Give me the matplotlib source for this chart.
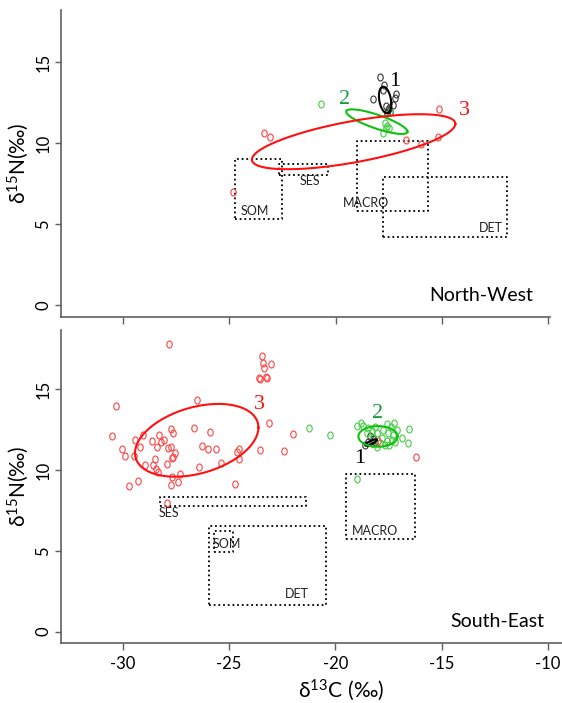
"""
Stable isotope biplot (d13C vs d15N) for two regions, with standard
ellipses per group and dotted source boxes.
"""

import numpy as np
import matplotlib
matplotlib.use("Agg")
import matplotlib.pyplot as plt
from matplotlib.path import Path

# ── Data: North-West ──────────────────────────────────────────────────────────
NW_G1_X = [-17.90, -17.72, -18.22, -17.16, -17.20, -17.28, -17.65, -17.55,
           -17.45, -17.60, -17.50, -17.75]
NW_G1_Y = [14.11, 13.60, 12.71, 13.02, 12.81, 12.36, 12.30, 12.05,
           11.90, 11.85, 12.15, 13.30]
NW_G2_X = [-20.68, -17.67, -17.56, -17.47, -17.63, -17.75, -17.45]
NW_G2_Y = [12.42, 11.23, 11.08, 10.96, 10.92, 10.65, 11.90]
NW_G3_X = [-23.36, -23.08, -24.83, -15.14, -16.70, -15.97, -15.17]
NW_G3_Y = [10.61, 10.36, 7.00, 12.09, 10.20, 9.95, 10.36]

# ── Data: South-East ──────────────────────────────────────────────────────────
SE_G1_X = [-18.22, -18.46, -18.61, -18.30, -18.38, -18.14]
SE_G1_Y = [11.89, 11.74, 11.54, 11.64, 12.10, 11.74]
SE_G2_X = [-21.23, -20.26, -19.00, -18.80, -18.69, -18.14, -17.59, -17.24,
           -17.39, -16.53, -16.86, -16.61, -18.98, -18.53, -18.30, -18.04,
           -17.75, -17.52, -17.28, -17.12, -17.83, -17.59, -17.36, -17.67,
           -17.91, -18.04, -17.20, -18.22, -17.47, -18.46]
SE_G2_Y = [12.61, 12.16, 12.73, 12.88, 12.73, 12.67, 12.84, 12.88,
           12.67, 12.53, 11.95, 11.68, 9.42, 12.26, 12.42, 12.26,
           12.47, 12.26, 12.16, 12.47, 11.95, 11.79, 11.85, 11.54,
           11.68, 11.43, 11.74, 12.01, 11.54, 12.57]
SE_G3_X = [-27.81, -23.45, -23.39, -23.03, -23.35, -23.60, -23.56, -23.28,
           -23.22, -30.30, -26.52, -23.14, -22.00, -30.49, -30.02, -29.88,
           -29.42, -29.03, -29.17, -29.48, -28.94, -29.27, -29.72, -28.61,
           -28.31, -28.20, -28.40, -28.05, -27.72, -27.65, -27.87, -27.72,
           -27.54, -27.62, -27.68, -28.48, -28.56, -28.44, -28.34, -27.90,
           -27.70, -27.74, -27.39, -27.31, -26.63, -25.91, -26.29, -25.99,
           -25.62, -26.41, -25.37, -24.63, -24.52, -24.52, -24.71, -23.56,
           -22.41, -27.90, -17.99, -16.22]
SE_G3_Y = [17.76, 17.04, 16.63, 16.55, 16.28, 15.70, 15.60, 15.72,
           15.70, 13.97, 14.34, 12.90, 12.22, 12.08, 11.27, 10.88,
           11.83, 12.16, 11.40, 10.86, 10.32, 9.33, 8.99, 11.81,
           12.14, 11.71, 11.43, 11.85, 12.55, 12.26, 11.33, 11.40,
           11.06, 10.82, 10.72, 10.66, 10.30, 10.04, 9.87, 10.36,
           9.58, 9.07, 9.25, 9.75, 12.57, 12.32, 11.46, 11.29,
           11.27, 10.20, 10.43, 11.13, 11.31, 10.66, 9.13, 11.23,
           11.15, 7.95, 11.80, 10.78]

# Standard ellipses: (centre x, centre y, sd x, sd y, correlation)
NW_ELLIPSES = [(-17.67, 12.67, 0.29, 0.82, -0.30),
               (-18.06, 11.33, 1.44, 0.76, -0.81),
               (-19.15, 10.09, 4.78, 1.70, 0.65)]
SE_ELLIPSES = [(-18.33, 11.69, 0.27, 0.20, 0.80),
               (-18.00, 12.07, 0.92, 0.64, 0.00),
               (-26.52, 11.83, 2.90, 2.25, 0.35)]

# Group number labels (x, y)
NW_NUMBERS = [(-17.20, 13.80), (-19.58, 12.71), (-13.95, 12.00)]
SE_NUMBERS = [(-18.85, 10.72), (-18.04, 13.50), (-23.55, 14.07)]

# Source boxes: name, x0, x1, y0, y1, label x, label y
NW_SOURCES = ["SOM", "SES", "MACRO", "DET"]
NW_BOX_X = [(-24.72, -22.51), (-22.65, -20.34), (-19.00, -15.64), (-17.77, -11.92)]
NW_BOX_Y = [(5.31, 9.00), (8.03, 8.70), (5.83, 10.16), (4.22, 7.93)]
NW_LABEL_XY = [(-23.78, 5.83), (-21.20, 7.68), (-18.58, 6.28), (-12.70, 4.76)]

SE_SOURCES = ["SES", "DET", "SOM", "MACRO"]
SE_BOX_X = [(-28.25, -21.40), (-25.96, -20.46), (-25.71, -24.80), (-19.51, -16.26)]
SE_BOX_Y = [(7.77, 8.34), (1.65, 6.53), (4.94, 6.24), (5.72, 9.75)]
SE_LABEL_XY = [(-27.82, 7.32), (-21.80, 2.33), (-25.11, 5.42), (-18.16, 6.22)]

GROUP_COLORS = ["black", "#10c010", "#ff1010"]
POINT_COLORS = ["#333333", "#44cc44", "#ff4040"]
NUMBER_COLORS = ["black", "#1a9a40", "#ff1010"]
AXIS_GREY = "#606060"

# small upright ellipse marker, like R's squashed pch=1
_t = np.linspace(0, 2 * np.pi, 40)
MARKER = Path(np.column_stack([0.78 * np.cos(_t), np.sin(_t)]), closed=True)


def ellipse_xy(cx, cy, sx, sy, rho, n=200):
    t = np.linspace(0, 2 * np.pi, n)
    x = cx + sx * np.cos(t)
    y = cy + sy * (rho * np.cos(t) + np.sqrt(1 - rho ** 2) * np.sin(t))
    return x, y


def style_axes(ax, xlim, ylim, show_xlabels):
    ax.set_xlim(*xlim)
    ax.set_ylim(*ylim)
    for side in ("top", "right"):
        ax.spines[side].set_visible(False)
    for side in ("left", "bottom"):
        ax.spines[side].set_color(AXIS_GREY)
        ax.spines[side].set_linewidth(1.2)
    ax.set_xticks([-30, -25, -20, -15, -10])
    ax.set_yticks([0, 5, 10, 15])
    ax.tick_params(axis="x", length=5, width=1, color=AXIS_GREY,
                   labelsize=12, pad=4, labelbottom=show_xlabels)
    ax.tick_params(axis="y", length=4, width=1, color=AXIS_GREY,
                   labelsize=12, pad=3, labelrotation=90)
    for lab in ax.get_yticklabels():
        lab.set_verticalalignment("center")
    ax.set_ylabel(r"$\mathregular{\delta^{15}N(‰)}$", fontsize=15, labelpad=3)


def draw_panel(ax, groups, ellipses, numbers, sources, box_x, box_y, label_xy,
               region):
    for (gx, gy), pc in zip(groups, POINT_COLORS):
        ax.plot(gx, gy, linestyle="none", marker=MARKER, markersize=5,
                markerfacecolor="none", markeredgecolor=pc,
                markeredgewidth=0.8, zorder=3)
    for (cx, cy, sx, sy, rho), col in zip(ellipses, GROUP_COLORS):
        ex, ey = ellipse_xy(cx, cy, sx, sy, rho)
        ax.plot(ex, ey, color=col, lw=1.5, zorder=4)
    for i, ((nx, ny), col) in enumerate(zip(numbers, NUMBER_COLORS)):
        ax.text(nx, ny, str(i + 1), color=col, fontsize=16,
                family="Liberation Serif", ha="center", va="center", zorder=5)
    for name, (x0, x1), (y0, y1), (lx, ly) in zip(sources, box_x, box_y, label_xy):
        ax.plot([x0, x1, x1, x0, x0], [y0, y0, y1, y1, y0], color="black",
                lw=1.3, linestyle=(0, (1, 1.6)), zorder=2)
        ax.text(lx, ly, name, fontsize=9, ha="center", va="center",
                color="#222222", zorder=5)
    ax.text(0.965, 0.07, region, transform=ax.transAxes, fontsize=14,
            ha="right", va="center")


def main():
    plt.rcParams["font.family"] = ["Lato", "DejaVu Sans"]
    plt.rcParams["mathtext.fontset"] = "custom"
    plt.rcParams["mathtext.rm"] = "Lato"
    plt.rcParams["axes.unicode_minus"] = False

    fig = plt.figure(figsize=(5.62, 7.03), dpi=100)
    ax_top = fig.add_axes([0.1091, 0.5491, 0.8696, 0.4367])
    ax_bot = fig.add_axes([0.1091, 0.0849, 0.8909, 0.4457])

    style_axes(ax_top, (-32.885, -9.92), (-0.74, 18.23), False)
    style_axes(ax_bot, (-32.885, -9.35), (-0.72, 18.65), True)

    draw_panel(ax_top,
               [(NW_G1_X, NW_G1_Y), (NW_G2_X, NW_G2_Y), (NW_G3_X, NW_G3_Y)],
               NW_ELLIPSES, NW_NUMBERS, NW_SOURCES, NW_BOX_X, NW_BOX_Y,
               NW_LABEL_XY, "North-West")
    draw_panel(ax_bot,
               [(SE_G1_X, SE_G1_Y), (SE_G2_X, SE_G2_Y), (SE_G3_X, SE_G3_Y)],
               SE_ELLIPSES, SE_NUMBERS, SE_SOURCES, SE_BOX_X, SE_BOX_Y,
               SE_LABEL_XY, "South-East")

    ax_bot.set_xlabel(r"$\mathregular{\delta^{13}C\ (‰)}$", fontsize=15)
    ax_bot.xaxis.set_label_coords(0.56, -0.108)

    fig.savefig("out.png", dpi=100, facecolor="white")


if __name__ == "__main__":
    main()
